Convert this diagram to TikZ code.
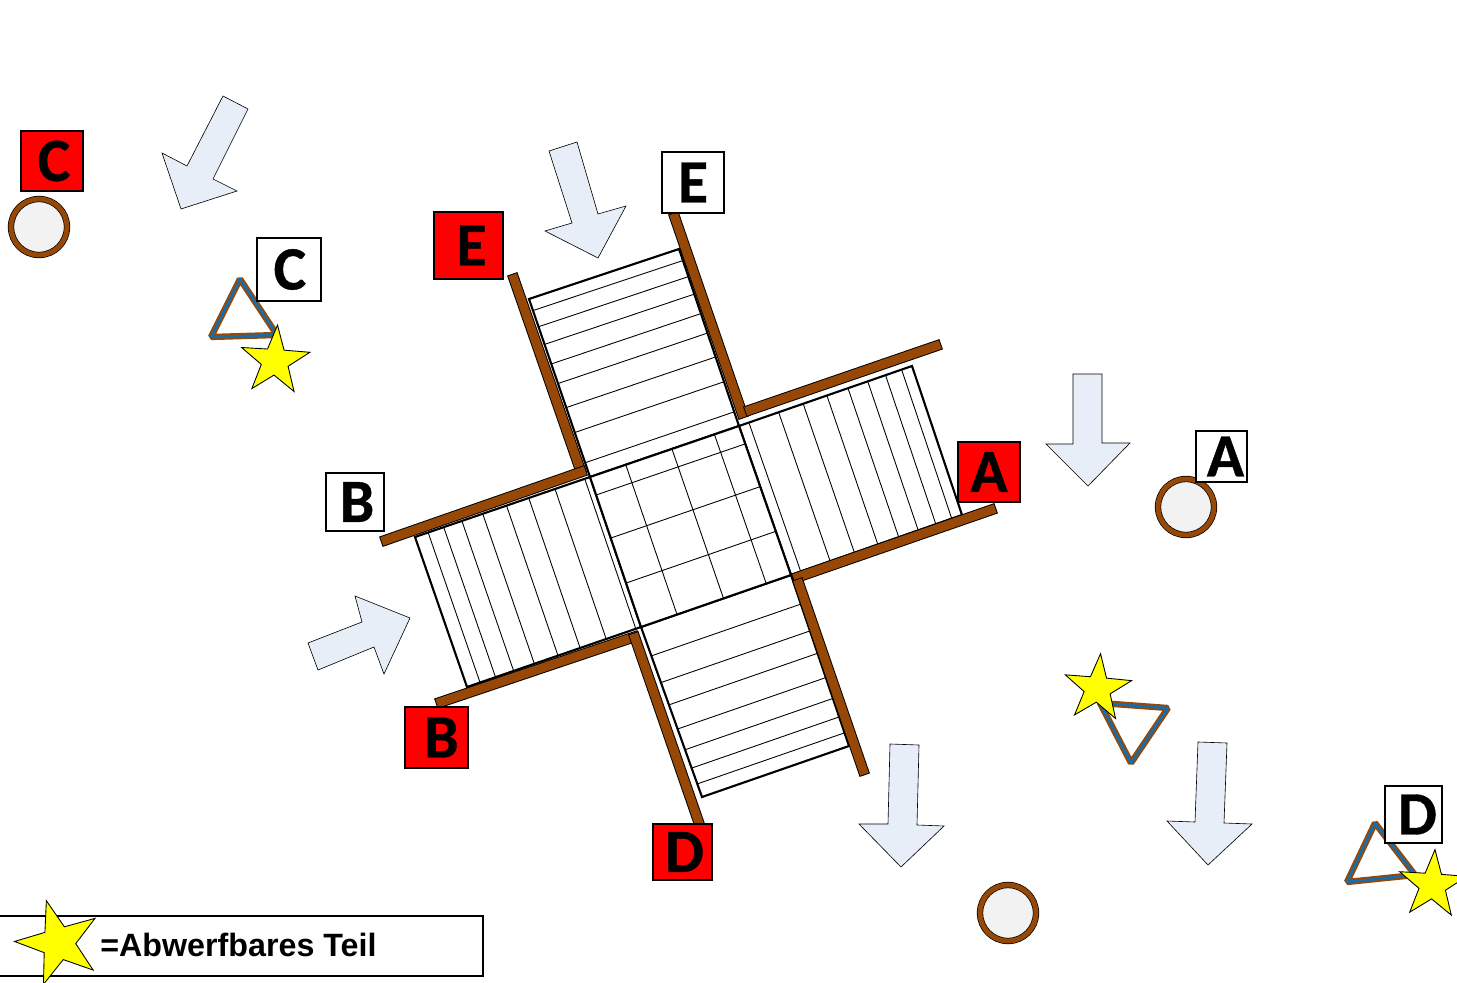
\documentclass[tikz,border=0pt]{standalone}
\usepackage{fontspec}
\setmainfont{Liberation Sans}
\newfontfamily\tagfont{Carlito}[BoldFont={Carlito Bold}, BoldFeatures={FakeBold=0.6}]
\usetikzlibrary{calc, shapes.geometric}
\definecolor{barBrown}{HTML}{974706}
\definecolor{triBlue}{HTML}{0F6FB5}
\definecolor{tagRed}{HTML}{FF0000}
\definecolor{starYellow}{HTML}{FFFF00}
\definecolor{arrowFill}{HTML}{E8EEF7}
\definecolor{holeFill}{HTML}{F2F2F2}
\tikzset{
  deck/.style={draw=black, line width=1.2pt, fill=white, line join=miter},
  rung/.style={draw=black, line width=0.5pt},
  bar/.style={draw=black, line width=0.55pt, double=barBrown, double distance=5.1pt, line cap=rect},
  blockarrow/.style={draw=black, line width=0.35pt, fill=arrowFill, line join=miter},
  frame/.style={draw=barBrown, line width=1.1pt, double=triBlue, double distance=1.4pt, line join=bevel},
  hole/.style={circle, draw=black, line width=0.4pt, double=barBrown, double distance=2.8pt,
    fill=holeFill, inner sep=0pt, minimum size=1.12cm},
  dropstar/.style={star, star points=5, star point ratio=2.55, draw=black, line width=0.5pt,
    fill=starYellow, inner sep=0pt},
  tag/.style 2 args={rectangle, draw=black, line width=0.8pt, inner sep=0pt,
    minimum width=#1*0.02cm, minimum height=#2*0.02cm,
    font=\tagfont\fontsize{35}{35}\selectfont\bfseries, text=black},
  redtag/.style 2 args={tag={#1}{#2}, fill=tagRed},
  whitetag/.style 2 args={tag={#1}{#2}, fill=white},
  nudge/.style={execute at begin node=\hspace*{#1}},
  legendbox/.style={rectangle, draw=black, line width=1.1pt, fill=white, inner sep=0pt,
    minimum width=485*0.02cm, minimum height=60*0.02cm},
  legendtext/.style={font=\fontsize{18.35}{18.35}\selectfont\bfseries, text=black, inner sep=0pt}
}

\begin{document}
\begin{tikzpicture}[x=0.02cm, y=-0.02cm]
\useasboundingbox (0,0) rectangle (1457,983);
\clip (0,0) rectangle (1457,983);

% ---------------- Deck corners ----------------
\coordinate (midNW) at (590,477);
\coordinate (midNE) at (739,426);
\coordinate (midSE) at (791,575);
\coordinate (midSW) at (641,627);
\coordinate (topNW) at (529,299);
\coordinate (topNE) at (679,249);
\coordinate (rightNE) at (912,366);
\coordinate (rightSE) at (962,515);
\coordinate (leftNW) at (415,537);
\coordinate (leftSW) at (467,687);
\coordinate (lowSE) at (849,746);
\coordinate (lowSW) at (702,797);

% ---------------- Decks ----------------
\draw[deck] (topNW) -- (topNE) -- (midNE) -- (midNW) -- cycle;
\draw[deck] (midNE) -- (rightNE) -- (rightSE) -- (midSE) -- cycle;
\draw[deck] (leftNW) -- (midNW) -- (midSW) -- (leftSW) -- cycle;
\draw[deck] (midSW) -- (midSE) -- (lowSE) -- (lowSW) -- cycle;
\draw[deck] (midNW) -- (midNE) -- (midSE) -- (midSW) -- cycle;

\foreach \t in {.065,.156,.255,.365,.475,.61,.75,.92}
  \draw[rung] ($(topNW)!\t!(midNW)$) -- ($(topNE)!\t!(midNE)$);
\foreach \t in {.057,.229,.371,.508,.63,.744,.847,.94}
  \draw[rung] ($(midNE)!\t!(rightNE)$) -- ($(midSE)!\t!(rightSE)$);
\foreach \t in {.075,.164,.268,.387,.523,.65,.8,.97}
  \draw[rung] ($(leftNW)!\t!(midNW)$) -- ($(leftSW)!\t!(midSW)$);
\foreach \t in {.17,.327,.458,.6,.722,.83,.923}
  \draw[rung] ($(midSW)!\t!(lowSW)$) -- ($(midSE)!\t!(lowSE)$);
\foreach \t in {.24,.55,.835}
  \draw[rung] ($(midNW)!\t!(midNE)$) -- ($(midSW)!\t!(midSE)$);
\foreach \t in {.12,.407,.707}
  \draw[rung] ($(midNW)!\t!(midSW)$) -- ($(midNE)!\t!(midSE)$);

% ---------------- Brown bars ----------------
\draw[bar] (514,279) -- (580,469);
\draw[bar] (675,218) -- (742,413);
\draw[bar] (750,410) -- (936,346);
\draw[bar] (798,577) -- (991,510);
\draw[bar] (386,540) -- (581,472);
\draw[bar] (441,702) -- (634,637);
\draw[bar] (635,638) -- (700,826);
\draw[bar] (799,584) -- (863,770);

% ---------------- Block arrows ----------------
\draw[blockarrow] (223,96) -- (248,109) -- (213,179) -- (237,191) -- (181,209) -- (162,153) -- (187,166) -- cycle;
\draw[blockarrow] (549,151) -- (577,142) -- (598,214) -- (626,206) -- (598,258) -- (545,231) -- (572,223) -- cycle;
\draw[blockarrow] (1073,374) -- (1102,374) -- (1102,443) -- (1130,443) -- (1088,486) -- (1046,444) -- (1073,444) -- cycle;
\draw[blockarrow] (308,643) -- (362,622) -- (355,596) -- (410,618) -- (384,674) -- (374,647) -- (318,670) -- cycle;
\draw[blockarrow] (890,744) -- (919,745) -- (917,825) -- (944,826) -- (901,867) -- (859,824) -- (888,824) -- cycle;
\draw[blockarrow] (1198,742) -- (1227,743) -- (1224,823) -- (1252,824) -- (1208,865) -- (1167,821) -- (1195,822) -- cycle;

% ---------------- Frames ----------------
\draw[frame] (240,279) -- (211,337) -- (277,335) -- cycle;
\draw[frame] (1168,708) -- (1131,763) -- (1100,703) -- cycle;
\draw[frame] (1375,823) -- (1347,882) -- (1415,875) -- cycle;

% ---------------- Holes ----------------
\node[hole] (holeC) at (39,227) {};
\node[hole] (holeA) at (1186,507) {};
\node[hole] (holeD) at (1008,913) {};

% ---------------- Tags ----------------
\node[redtag={62}{60}, nudge=2.3pt] (redC) at (52,161) {C};
\node[whitetag={64}{63}, nudge=1pt] (whiteC) at (289,269.5) {C};
\node[redtag={69}{67}, nudge=3.4pt] (redE) at (468.5,245.5) {E};
\node[whitetag={62}{61}] (whiteE) at (693,182.5) {E};
\node[whitetag={58}{58}, nudge=2.3pt] (whiteB) at (355,502) {B};
\node[redtag={62}{60}] (redA) at (989,472) {A};
\node[whitetag={51}{51}, nudge=4.5pt] (whiteA) at (1221.5,456.5) {A};
\node[redtag={63}{61}, nudge=5.6pt] (redB) at (436.5,737.5) {B};
\node[redtag={59}{56}, nudge=2.3pt] (redD) at (682.5,852) {D};
\node[whitetag={57}{57}, nudge=4.5pt] (whiteD) at (1413.5,814.5) {D};

% ---------------- Stars ----------------
\node[dropstar, minimum size=1.44cm, shape border rotate=-4] (starC) at (275,361) {};
\node[dropstar, minimum size=1.4cm, shape border rotate=-5] (starA) at (1097.5,688.5) {};
\node[dropstar, minimum size=1.42cm, shape border rotate=-4] (starD) at (1432.5,885) {};

% ---------------- Legend ----------------
\node[legendbox] (legend) at (240.5,946) {};
\node[dropstar, minimum size=1.76cm, shape border rotate=16] (starLegend) at (58.5,943) {};
\node[legendtext, anchor=west] (legendLabel) at (100,945) {=Abwerfbares Teil};

\end{tikzpicture}
\end{document}
